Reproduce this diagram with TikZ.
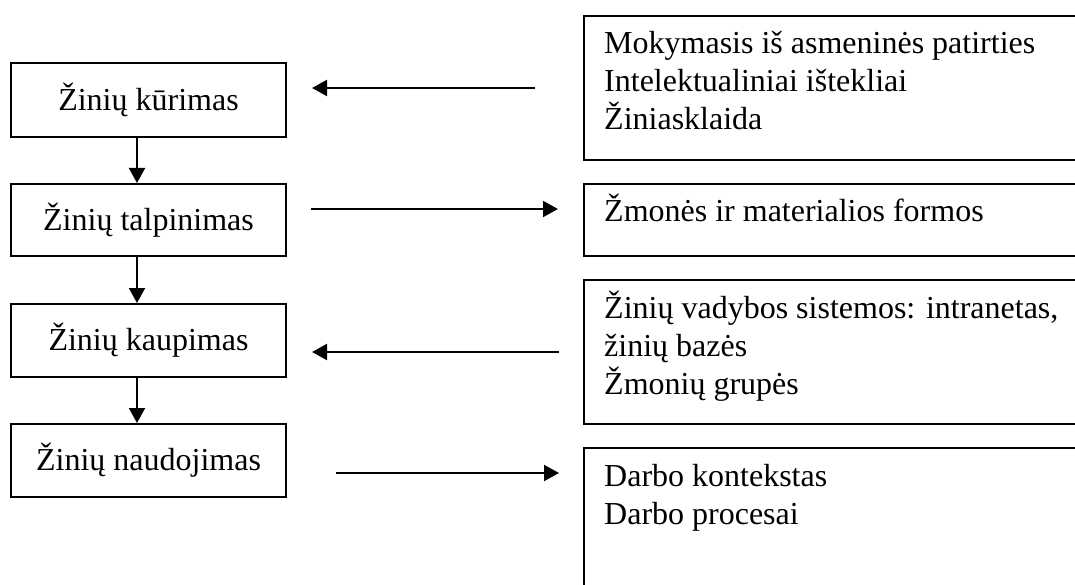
\documentclass[tikz,border=0pt]{standalone}
\usepackage{fontspec}
\setmainfont{Liberation Serif}
\usetikzlibrary{arrows.meta}
\begin{document}
\begin{tikzpicture}[x=1pt,y=-1pt,
  every node/.style={font=\fontsize{32}{38}\selectfont},
  stage/.style={draw,line width=2pt,minimum width=275pt,inner sep=0pt},
  infobox/.style={draw,line width=2pt,minimum width=506pt,inner sep=0pt},
  infotext/.style={anchor=base west,align=left,inner sep=0pt},
  arr/.style={line width=2pt,-{Triangle[width=16pt,length=15pt]}}]
\useasboundingbox (0,0) rectangle (1075,585);
\clip (0,0) rectangle (1075,585);

% process stages
\node[stage,minimum height=74pt] (k1) at (148.5,100) {Žinių kūrimas};
\node[stage,minimum height=72pt] (k2) at (148.5,220) {Žinių talpinimas};
\node[stage,minimum height=73pt] (k3) at (148.5,340.5) {Žinių kaupimas};
\node[stage,minimum height=73pt] (k4) at (148.5,460.5) {Žinių naudojimas};

% sources and forms
\node[infobox,minimum height=144pt] (a) at (837,88) {};
\node[infobox,minimum height=72pt] (b) at (837,220) {};
\node[infobox,minimum height=144pt] (c) at (837,352) {};
\node[infobox,minimum height=172pt] (d) at (837,534) {};

% texts are placed by the baseline of their last line
\node[infotext] (ta) at ([xshift=21pt,yshift=-115pt]a.north west)
  {Mokymasis iš asmeninės patirties\\Intelektualiniai ištekliai\\Žiniasklaida};
\node[infotext] (tb) at ([xshift=21pt,yshift=-39pt]b.north west)
  {Žmonės ir materialios formos};
\node[infotext] (tc) at ([xshift=21pt,yshift=-115pt]c.north west)
  {Žinių vadybos sistemos: intranetas,\\žinių bazės\\Žmonių grupės};
\node[infotext] (td) at ([xshift=21pt,yshift=-77pt]d.north west)
  {Darbo kontekstas\\Darbo procesai};

% flow between stages
\draw[arr] ([xshift=-11.5pt]k1.south) -- ([xshift=-11.5pt]k2.north);
\draw[arr] ([xshift=-11.5pt]k2.south) -- ([xshift=-11.5pt]k3.north);
\draw[arr] ([xshift=-11.5pt]k3.south) -- ([xshift=-11.5pt]k4.north);

% links to the side boxes
\draw[arr,shorten <=48pt,shorten >=25pt] (a.west) -- (a.west -| k1.east);
\draw[arr,shorten <=24pt,shorten >=25pt] ([yshift=11pt]k2.east) -- ([yshift=11pt]k2.east -| b.west);
\draw[arr,shorten <=24pt,shorten >=25pt] (c.west) -- (c.west -| k3.east);
\draw[arr,shorten <=49pt,shorten >=24pt] ([yshift=-12.5pt]k4.east) -- ([yshift=-12.5pt]k4.east -| d.west);
\end{tikzpicture}
\end{document}
